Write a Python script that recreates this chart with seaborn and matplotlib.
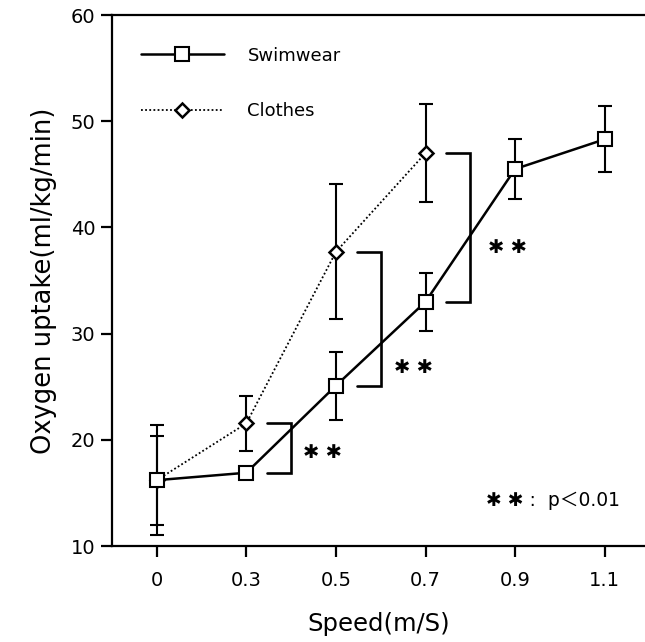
import matplotlib
matplotlib.use("Agg")
import matplotlib.pyplot as plt
import seaborn as sns
import pandas as pd
import numpy as np
from matplotlib.lines import Line2D

# Speed categories (m/s) and oxygen uptake (ml/kg/min)
speed_labels = ["0", "0.3", "0.5", "0.7", "0.9", "1.1"]
swim_mean = [16.2, 16.9, 25.1, 33.0, 45.5, 48.3]
swim_err = [5.2, 0.0, 3.2, 2.75, 2.85, 3.1]
clothes_mean = [16.2, 21.55, 37.7, 47.0]
clothes_err = [4.2, 2.6, 6.35, 4.6]

# significance brackets: (x position of the bar, upper value, lower value)
sig_x = [1.5, 2.5, 3.5]
sig_hi = [21.55, 37.7, 47.0]
sig_lo = [16.9, 25.1, 33.0]

sns.set_theme(style="ticks")
plt.rcParams["font.family"] = ["DejaVu Sans", "Noto Sans CJK JP"]
plt.rcParams["text.color"] = "black"

df = pd.concat([
    pd.DataFrame({"pos": np.arange(len(swim_mean)), "uptake": swim_mean, "group": "Swimwear"}),
    pd.DataFrame({"pos": np.arange(len(clothes_mean)), "uptake": clothes_mean, "group": "Clothes"}),
])

fig = plt.figure(figsize=(6.45, 6.42), dpi=100)
ax = fig.add_axes([0.1736, 0.1495, 0.8264, 0.8271])

SOLID_LW = 1.8
DOT = (0, (1, 1.3))

# error bars first so markers sit on top
ax.errorbar(np.arange(len(swim_mean)), swim_mean, yerr=swim_err, fmt="none",
            ecolor="black", elinewidth=1.5, capsize=5, capthick=1.5, zorder=2)
ax.errorbar(np.arange(len(clothes_mean)), clothes_mean, yerr=clothes_err, fmt="none",
            ecolor="black", elinewidth=1.5, capsize=5, capthick=1.5, zorder=2)

sns.lineplot(data=df[df.group == "Clothes"], x="pos", y="uptake", ax=ax,
             color="black", linestyle=DOT, linewidth=1.3,
             marker="D", markersize=7, markerfacecolor="white",
             markeredgecolor="black", markeredgewidth=1.8, zorder=3, legend=False)
sns.lineplot(data=df[df.group == "Swimwear"], x="pos", y="uptake", ax=ax,
             color="black", linestyle="-", linewidth=SOLID_LW,
             marker="s", markersize=9.5, markerfacecolor="white",
             markeredgecolor="black", markeredgewidth=1.5, zorder=4, legend=False)

# significance brackets with their star labels
star_pos = [(1.85, 18.85), (2.87, 26.8), (3.92, 38.1)]
for (xb, hi, lo), (sx, sy) in zip(zip(sig_x, sig_hi, sig_lo), star_pos):
    ax.plot([xb - 0.27, xb, xb, xb - 0.27], [hi, hi, lo, lo], color="black",
            linewidth=1.9, solid_joinstyle="miter", zorder=1)
    ax.text(sx, sy, "✱ ✱", fontsize=14, ha="center", va="center", color="black")

ax.text(4.42, 14.3, "✱ ✱ :  p＜0.01", fontsize=13.5, ha="center", va="center",
        color="black", family=["DejaVu Sans", "Noto Sans CJK JP"])

ax.set_xlim(-0.5, 5.45)
ax.set_ylim(10, 60)
ax.set_xticks(np.arange(len(speed_labels)))
ax.set_xticklabels(speed_labels)
ax.set_yticks([10, 20, 30, 40, 50, 60])
ax.tick_params(axis="both", direction="out", length=8, width=1.6, labelsize=14, colors="black", pad=10)
ax.tick_params(axis="y", pad=4)
for side in ["left", "bottom", "top"]:
    ax.spines[side].set_linewidth(1.6)
    ax.spines[side].set_color("black")
ax.spines["right"].set_visible(False)

ax.set_xlabel("Speed(m/S)", fontsize=17.5, labelpad=16, color="black")
ax.set_ylabel("Oxygen uptake(ml/kg/min)", fontsize=18.5, labelpad=10, color="black")

handles = [
    Line2D([], [], color="black", linewidth=SOLID_LW, marker="s", markersize=9.5,
           markerfacecolor="white", markeredgecolor="black", markeredgewidth=1.5),
    Line2D([], [], color="black", linestyle=DOT, linewidth=1.3, marker="D",
           markersize=7, markerfacecolor="white", markeredgecolor="black", markeredgewidth=1.8),
]
leg = ax.legend(handles, ["Swimwear", "Clothes"], loc="upper left", frameon=False,
                handlelength=4.6, handletextpad=1.3, labelspacing=2.1, fontsize=13,
                bbox_to_anchor=(0.0, 0.995), borderaxespad=1.2)
for t in leg.get_texts():
    t.set_color("black")

fig.savefig("out.png", dpi=100)
